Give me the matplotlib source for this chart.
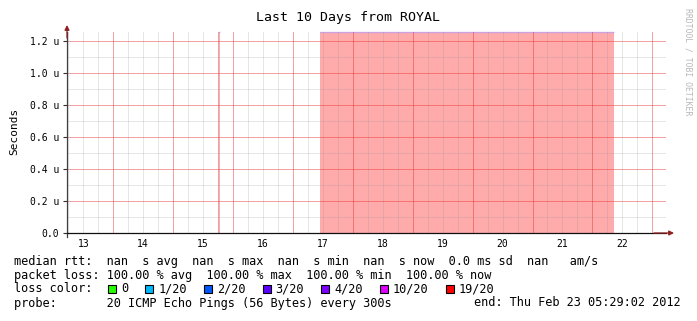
import pandas as pd
import matplotlib
matplotlib.use("Agg")
import matplotlib.pyplot as plt
import matplotlib.dates as mdates
from matplotlib.patches import Rectangle

plt.rcParams['font.family'] = ['DejaVu Sans Mono']

# ========== data ==========
END_TIME = "2012-02-23 05:29:02"
SPAN_DAYS = 10
# 100 % packet loss periods (start, end)
loss_start = ["2012-02-15 18:10", "2012-02-17 10:48"]
loss_end = ["2012-02-15 18:55", "2012-02-22 08:30"]
y_ticks = [0.0, 0.2, 0.4, 0.6, 0.8, 1.0, 1.2]
y_labels = ["0.0", "0.2 u", "0.4 u", "0.6 u", "0.8 u", "1.0 u", "1.2 u"]
Y_MAX = 1.256

loss_names = ["0", "1/20", "2/20", "3/20", "4/20", "10/20", "19/20"]
loss_colors = ["#26ff00", "#00b8ff", "#0059ff", "#5e00ff", "#7e00ff", "#dd00ff", "#ff0000"]

line_rtt = "median rtt:  nan  s avg  nan  s max  nan  s min  nan  s now  0.0 ms sd  nan   am/s"
line_loss = "packet loss: 100.00 % avg  100.00 % max  100.00 % min  100.00 % now"
line_probe = "probe:       20 ICMP Echo Pings (56 Bytes) every 300s"
line_end = "end: Thu Feb 23 05:29:02 2012"
title = "Last 10 Days from ROYAL"

# ========== figure ==========
W, H = 697, 321
fig = plt.figure(figsize=(W / 100, H / 100), dpi=100)


def px(x, y):
    return x / W, 1 - y / H


L, R, T, B = 67, 666, 32, 233
ax = fig.add_axes([L / W, 1 - B / H, (R - L) / W, (B - T) / H])

end_ts = pd.to_datetime(END_TIME)
start_ts = end_ts - pd.Timedelta(days=SPAN_DAYS)
t_end = mdates.date2num(end_ts)
t_start = mdates.date2num(start_ts)

for s, e in zip(loss_start, loss_end):
    s = mdates.date2num(pd.to_datetime(s))
    e = mdates.date2num(pd.to_datetime(e))
    ax.axvspan(s, e, color="#ff0000", alpha=0.33, lw=0, zorder=1)
    ax.plot([s, e], [Y_MAX, Y_MAX], color="#c0a0f0", lw=1.0, alpha=0.8,
            solid_capstyle="butt", zorder=1.5, clip_on=False)

ax.set_yticks(y_ticks)
ax.set_yticklabels(y_labels)
ax.set_xlim(t_start, t_end)
ax.set_ylim(0, Y_MAX)

# grid: grey every 6 h / 0.1 u, red every day / 0.2 u
grid_times = pd.date_range(start_ts.ceil("6h"), end_ts, freq="6h")
for ts in grid_times:
    if ts.hour != 0:
        ax.axvline(mdates.date2num(ts), color="#909090", alpha=0.22, lw=0.72, zorder=2)
for v in y_ticks:
    if v + 0.1 < Y_MAX:
        ax.axhline(v + 0.1, color="#909090", alpha=0.22, lw=0.72, zorder=2)
for ts in grid_times:
    if ts.hour == 0:
        ax.axvline(mdates.date2num(ts), color="#e83030", alpha=0.45, lw=0.72, zorder=2.1)
for v in y_ticks[1:]:
    ax.axhline(v, color="#e83030", alpha=0.45, lw=0.72, zorder=2.1)

ax.tick_params(axis="x", which="both", length=0, labelbottom=False)
ax.tick_params(axis="y", which="major", length=3, width=0.8, color="#303030",
               labelsize=7, pad=2.5)

for sp in ["top", "right"]:
    ax.spines[sp].set_visible(False)
ax.spines["left"].set_color("#404040")
ax.spines["bottom"].set_color("#101010")
ax.spines["left"].set_linewidth(0.9)
ax.spines["bottom"].set_linewidth(0.9)

# day labels at noon
sec = ax.secondary_xaxis("bottom")
sec.xaxis.set_major_locator(mdates.HourLocator(byhour=[12]))
sec.xaxis.set_major_formatter(mdates.DateFormatter("%d"))
sec.spines["bottom"].set_visible(False)
sec.tick_params(length=0, labelsize=7, pad=4)

# arrows
arrow_col = "#902020"
ax.annotate("", xy=(1 + 8 / (R - L), 0), xytext=(0.98, 0), xycoords="axes fraction",
            arrowprops=dict(arrowstyle="-|>", color=arrow_col, lw=0.9, mutation_scale=7,
                            shrinkA=0, shrinkB=0))
ax.annotate("", xy=(0, 1 + 7 / (B - T)), xytext=(0, 0.97), xycoords="axes fraction",
            arrowprops=dict(arrowstyle="-|>", color=arrow_col, lw=0.9, mutation_scale=7,
                            shrinkA=0, shrinkB=0))
ax.plot([0, 0], [0, -4 / (B - T)], color="#404040", lw=0.9, transform=ax.transAxes,
        clip_on=False)

# texts
fig.text(*px(348.5, 17), title, ha="center", va="center", fontsize=9.5)
fig.text(*px(14, 131), "Seconds", ha="center", va="center", rotation=90, fontsize=8)
fig.text(*px(688, 62), "RRDTOOL / TOBI OETIKER", ha="center", va="center",
         rotation=270, fontsize=5.9, color="#b8b8b8")

CW = 7.15
X0 = 14.0
FS = 8.55
fig.text(*px(X0, 261), line_rtt, ha="left", va="center", fontsize=FS)
fig.text(*px(X0, 275), line_loss, ha="left", va="center", fontsize=FS)
fig.text(*px(X0, 289), "loss color:", ha="left", va="center", fontsize=FS)
fig.text(*px(X0, 303), line_probe, ha="left", va="center", fontsize=FS)
fig.text(*px(681, 303), line_end, ha="right", va="center", fontsize=FS)

tx = X0 + 15 * CW
for name, col in zip(loss_names, loss_colors):
    bx, by = px(tx - 13, 293)
    fig.add_artist(Rectangle((bx, by), 8 / W, 8 / H, transform=fig.transFigure,
                             facecolor=col, edgecolor="black", lw=0.8))
    fig.text(*px(tx, 289), name, ha="left", va="center", fontsize=FS)
    tx += (len(name) + 4.2) * CW

fig.savefig("out.png", dpi=100)
